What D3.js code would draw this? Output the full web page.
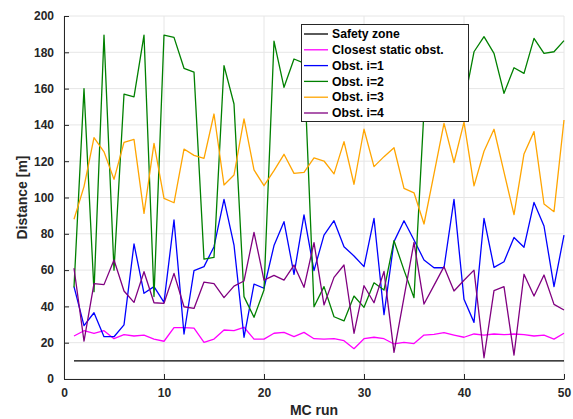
<!DOCTYPE html>
<meta charset="utf-8">
<style>
  body { margin: 0; background: #fff; }
  text { font-family: "Liberation Sans", Arial, Helvetica, sans-serif; font-weight: bold; }
</style>

<!-- Load d3.js -->
<script src="https://d3js.org/d3.v7.min.js"></script>

<!-- Create a div where the graph will take place -->
<div id="my_dataviz"></div>

<script>
// Monte Carlo run numbers
var runs = [1, 2, 3, 4, 5, 6, 7, 8, 9, 10, 11, 12, 13, 14, 15, 16, 17, 18, 19, 20,
            21, 22, 23, 24, 25, 26, 27, 28, 29, 30, 31, 32, 33, 34, 35, 36, 37, 38, 39, 40,
            41, 42, 43, 44, 45, 46, 47, 48, 49, 50];

// Safety zone radius (constant)
var safetyZone = 10;

// Distances, one value per run
var closestStatic = [23.7, 26.6, 25.2, 26.6, 22.2, 24.4, 23.7, 24.2, 22, 20.8,
                     28.3, 28.3, 28, 20.2, 22, 27, 26.6, 28.5, 22, 22,
                     25.2, 25.7, 23.3, 25.7, 22.2, 22, 22.2, 21.1, 16.7, 22.2,
                     23, 22.2, 19.3, 20.2, 19.5, 24.2, 24.6, 25.5, 24.2, 23,
                     24.8, 24.2, 24.8, 24.4, 24.8, 24.4, 23.7, 24.2, 22, 25.2];

var obst1 = [50.9, 29.4, 36.5, 23.3, 23.3, 29.8, 74.4, 47.2, 50.9, 42.2,
             87.6, 24.8, 59.7, 61.9, 72.9, 99, 73.8, 23, 52.3, 50,
             73.5, 86.7, 57.7, 90.4, 59.7, 79.3, 87.2, 72.9, 67.8, 61.9,
             88.5, 35.5, 75.7, 87.2, 76.6, 65.6, 61.3, 61.3, 99, 43.9,
             31.2, 88.5, 61.5, 64.6, 78, 72.6, 97.3, 84.3, 50.9, 79.3];

var obst2 = [50.5, 160, 48.1, 189.5, 60, 156.9, 155.4, 189.5, 45.4, 189.5,
             188.2, 171.2, 169.1, 66, 67, 172.7, 151.5, 45.4, 34, 49,
             186.2, 160.7, 176.3, 174, 39.8, 50.9, 34.3, 32, 45.7, 39.5,
             53, 49, 76.2, 60, 44.8, 148, 178, 165, 182, 152,
             180.3, 188.6, 179.4, 157.4, 171.5, 168.4, 187.7, 179.4, 180.3, 186.4];

var obst3 = [88, 106, 133, 125.2, 110, 130.4, 132, 91.3, 129.8, 99.5,
             97.1, 126.7, 123.2, 121.6, 146, 106.9, 112.4, 143.3, 115.2, 106.5,
             114.8, 123.8, 113.3, 113.9, 121.8, 120.1, 113, 130.8, 107.3, 137.6,
             117, 122.5, 127.4, 105, 102.6, 85.4, 113, 140.8, 119.3, 141.5,
             106.4, 125.5, 137.6, 114, 90.6, 124, 136.3, 96.4, 92.2, 142.7];

var obst4 = [61, 20.9, 52.5, 52, 65.6, 48.5, 42.2, 59.1, 42, 41.7,
             58.2, 39.8, 38.9, 53.4, 52.5, 44.8, 51.2, 54, 80.8, 54.5,
             57.1, 54.5, 62.8, 50.5, 75.1, 40.8, 56, 62.8, 25.2, 51.4,
             42, 59.3, 14.7, 45, 75.3, 41.3, 51.6, 61.9, 48.5, 54.4,
             60, 11.7, 48.7, 50.9, 13.2, 57.7, 45.7, 57.3, 41.1, 38];

// Tick labels
var xTicks = [0, 10, 20, 30, 40, 50];
var yTicks = [0, 20, 40, 60, 80, 100, 120, 140, 160, 180, 200];

// Series names and colours (legend order)
var seriesNames = ["Safety zone", "Closest static obst.", "Obst. i=1", "Obst. i=2", "Obst. i=3", "Obst. i=4"];
var seriesColors = ["#000000", "#ff00ff", "#0000ff", "#008000", "#ffa500", "#800080"];

// Set the dimensions and margins of the graph
var margin = {top: 16, right: 9, bottom: 40, left: 64},
    width = 573 - margin.left - margin.right,
    height = 419 - margin.top - margin.bottom;

var svg = d3.select("#my_dataviz")
  .append("svg")
    .attr("width", width + margin.left + margin.right)
    .attr("height", height + margin.top + margin.bottom)
  .append("g")
    .attr("transform", "translate(" + margin.left + "," + margin.top + ")");

var x = d3.scaleLinear().domain([0, 50]).range([0, width]);
var y = d3.scaleLinear().domain([0, 200]).range([height, 0]);

// Grid lines
svg.append("g")
  .selectAll("line")
  .data(xTicks)
  .enter().append("line")
    .attr("x1", function(d) { return x(d); })
    .attr("x2", function(d) { return x(d); })
    .attr("y1", 0)
    .attr("y2", height)
    .attr("stroke", "#e6e6e6");
svg.append("g")
  .selectAll("line")
  .data(yTicks)
  .enter().append("line")
    .attr("x1", 0)
    .attr("x2", width)
    .attr("y1", function(d) { return y(d); })
    .attr("y2", function(d) { return y(d); })
    .attr("stroke", "#e6e6e6");

// Axes, ticks pointing inwards like MATLAB
var xAxis = svg.append("g")
  .attr("transform", "translate(0," + height + ")")
  .call(d3.axisBottom(x).tickValues(xTicks).tickSize(-5).tickPadding(9).tickSizeOuter(0));
var yAxis = svg.append("g")
  .call(d3.axisLeft(y).tickValues(yTicks).tickSize(-5).tickPadding(10).tickSizeOuter(0));
[xAxis, yAxis].forEach(function(a) {
  a.select(".domain").attr("stroke", "#262626");
  a.selectAll(".tick line").attr("stroke", "#262626");
  a.selectAll(".tick text")
    .attr("fill", "#262626")
    .style("font-size", "12px")
    .style("font-family", "'Liberation Sans', Arial, sans-serif")
    .style("font-weight", "bold");
});

// Axis labels
svg.append("text")
  .attr("x", width / 2)
  .attr("y", height + 36)
  .attr("text-anchor", "middle")
  .attr("fill", "#262626")
  .style("font-size", "14px")
  .text("MC run");

svg.append("text")
  .attr("transform", "rotate(-90)")
  .attr("x", -height / 2)
  .attr("y", -37)
  .attr("text-anchor", "middle")
  .attr("fill", "#262626")
  .style("font-size", "14px")
  .text("Distance [m]");

// Lines
var line = d3.line()
  .x(function(d) { return x(d[0]); })
  .y(function(d) { return y(d[1]); });

var seriesData = [
  [[runs[0], safetyZone], [runs[runs.length - 1], safetyZone]],
  runs.map(function(r, i) { return [r, closestStatic[i]]; }),
  runs.map(function(r, i) { return [r, obst1[i]]; }),
  runs.map(function(r, i) { return [r, obst2[i]]; }),
  runs.map(function(r, i) { return [r, obst3[i]]; }),
  runs.map(function(r, i) { return [r, obst4[i]]; })
];

seriesData.forEach(function(s, i) {
  svg.append("path")
    .datum(s)
    .attr("fill", "none")
    .attr("stroke", seriesColors[i])
    .attr("stroke-width", 1.3)
    .attr("stroke-linejoin", "round")
    .attr("d", line);
});

// Legend
var legend = svg.append("g")
  .attr("transform", "translate(" + (301 - margin.left) + "," + (24 - margin.top) + ")");
legend.append("rect")
  .attr("x", 0.5)
  .attr("y", 0.5)
  .attr("width", 167)
  .attr("height", 97)
  .attr("fill", "#fff")
  .attr("stroke", "#262626")
  .attr("stroke-width", 1);
seriesNames.forEach(function(name, i) {
  var ly = 10 + i * 15.8;
  legend.append("line")
    .attr("x1", 3)
    .attr("x2", 27)
    .attr("y1", ly)
    .attr("y2", ly)
    .attr("stroke", seriesColors[i])
    .attr("stroke-width", 1.3);
  legend.append("text")
    .attr("x", 31)
    .attr("y", ly)
    .attr("dy", "0.35em")
    .attr("fill", "#000")
    .style("font-size", "12.2px")
    .text(name);
});
</script>
